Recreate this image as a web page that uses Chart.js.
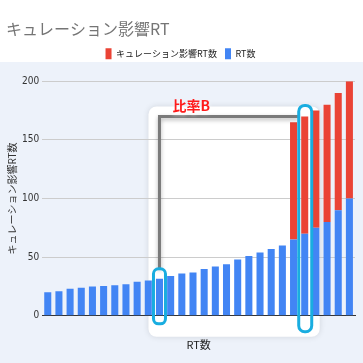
<!DOCTYPE html>
<html>
<head>
<meta charset="utf-8">
<script src="https://cdn.jsdelivr.net/npm/chart.js@4"></script>
<style>
  html, body { margin: 0; padding: 0; background: #fff; }
  canvas { display: block; }
</style>
</head>
<body>
<canvas id="chart" width="363" height="363"></canvas>
<script>
var labels = [];
for (var i = 1; i <= 28; i++) labels.push("" + i);
var rtValues = [20, 21, 23, 24, 25, 25.5, 26, 27, 29, 30, 31.5, 34, 36, 37, 40, 42, 44, 48, 51, 54, 57, 60, 65, 70, 75, 80, 90, 100];
var curationValues = [0, 0, 0, 0, 0, 0, 0, 0, 0, 0, 0, 0, 0, 0, 0, 0, 0, 0, 0, 0, 0, 0, 100, 100, 100, 100, 100, 100];
var yTicks = [0, 50, 100, 150, 200];
var markA = 10;   // 左の枠
var markB = 23;   // 右の枠

var jp = "'Noto Sans CJK JP', sans-serif";

// 凡例の下に余白
var legendGap = {
  id: "legendGap",
  beforeInit: function (chart) {
    var fit = chart.legend.fit;
    chart.legend.fit = function () {
      fit.bind(chart.legend)();
      this.height += 12;
    };
  }
};

// 背景と注釈
var decor = {
  id: "decor",
  beforeDraw: function (chart) {
    var c = chart.ctx, x = chart.scales.x, y = chart.scales.y;
    c.save();
    c.fillStyle = "#fff";
    c.fillRect(0, 0, chart.width, chart.height);
    c.fillStyle = "#edf2fa";
    c.fillRect(0, 62, chart.width, chart.height - 62);
    var l = x.getPixelForValue(markA) - 11, r = x.getPixelForValue(markB) + 15;
    var t = y.getPixelForValue(rtValues[markB] + curationValues[markB]) - 10, b = y.getPixelForValue(0) + 21;
    c.shadowColor = "rgba(0,0,0,0.12)";
    c.shadowBlur = 6;
    c.fillStyle = "#fff";
    c.beginPath();
    c.roundRect(l, t, r - l, b - t, 8);
    c.fill();
    c.restore();
  },
  afterDatasetsDraw: function (chart) {
    var c = chart.ctx, x = chart.scales.x, y = chart.scales.y;
    var ax = x.getPixelForValue(markA), bx = x.getPixelForValue(markB);
    var aTop = y.getPixelForValue(rtValues[markA]) - 10;
    var bTop = y.getPixelForValue(rtValues[markB] + curationValues[markB]) - 11;
    var lineY = y.getPixelForValue(rtValues[markB] + curationValues[markB]);
    c.save();
    // グレーの線
    c.shadowColor = "rgba(0,0,0,0.3)";
    c.shadowBlur = 4;
    c.shadowOffsetY = 2;
    c.strokeStyle = "#7a7a7a";
    c.lineWidth = 3;
    c.beginPath();
    c.moveTo(ax, aTop);
    c.lineTo(ax, lineY);
    c.lineTo(bx - 6, lineY);
    c.stroke();
    c.shadowColor = "transparent";
    // 枠
    c.strokeStyle = "#19ade0";
    c.lineWidth = 3;
    c.beginPath();
    c.roundRect(ax - 6, aTop, 12, y.getPixelForValue(0) + 8 - aTop, 5);
    c.stroke();
    c.beginPath();
    c.roundRect(bx - 6, bTop, 13, y.getPixelForValue(0) + 16 - bTop, 6);
    c.stroke();
    // 比率B
    c.font = "bold 14px 'Noto Sans CJK JP', sans-serif";
    c.fillStyle = "#ff1a1a";
    c.textBaseline = "alphabetic";
    c.shadowColor = "#fff";
    c.shadowBlur = 4;
    c.fillText("比率B", ax + 13, lineY - 5);
    c.restore();
  }
};

function draw() {
  new Chart(document.getElementById("chart"), {
    type: "bar",
    data: {
      labels: labels,
      datasets: [
        {
          label: "RT数",
          backgroundColor: "#4285f4",
          data: rtValues
        },
        {
          label: "キュレーション影響RT数",
          backgroundColor: "#ea4335",
          data: curationValues
        }
      ]
    },
    options: {
      responsive: false,
      animation: false,
      layout: { padding: { left: 6, right: 8, top: 0, bottom: 8 } },
      datasets: { bar: { categoryPercentage: 0.9, barPercentage: 0.7 } },
      plugins: {
        tooltip: { enabled: false },
        title: {
          display: true,
          text: "キュレーション影響RT",
          align: "start",
          color: "#757575",
          font: { family: jp, size: 16, weight: "normal" },
          padding: { top: 19, bottom: 2 }
        },
        legend: {
          reverse: true,
          labels: {
            boxWidth: 6,
            boxHeight: 11,
            padding: 8,
            color: "#222",
            font: { family: jp, size: 9 }
          }
        }
      },
      scales: {
        x: {
          stacked: true,
          ticks: { display: false },
          grid: { display: false },
          border: { color: "#333", width: 1 },
          title: {
            display: true,
            text: "RT数",
            color: "#222",
            font: { family: jp, size: 11 },
            padding: { top: 14 }
          }
        },
        y: {
          stacked: true,
          min: 0,
          max: 200,
          afterBuildTicks: function (s) { s.ticks = yTicks.map(function (v) { return { value: v }; }); },
          ticks: { color: "#333", padding: 3, font: { family: "'Liberation Sans Narrow', 'DejaVu Sans Condensed', sans-serif", size: 10 } },
          grid: { color: "#cccccc", drawTicks: false },
          border: { display: false },
          title: {
            display: true,
            text: "キュレーション影響RT数",
            color: "#333",
            font: { family: jp, size: 10 },
            padding: { top: 0, bottom: 1 }
          }
        }
      }
    },
    plugins: [decor, legendGap]
  });
}

if (document.fonts && document.fonts.load) {
  Promise.all([
    document.fonts.load("10px 'Noto Sans CJK JP'", "キュレーション影響RT数"),
    document.fonts.load("bold 14px 'Noto Sans CJK JP'", "比率B")
  ]).then(draw, draw);
} else {
  draw();
}
</script>
</body>
</html>
